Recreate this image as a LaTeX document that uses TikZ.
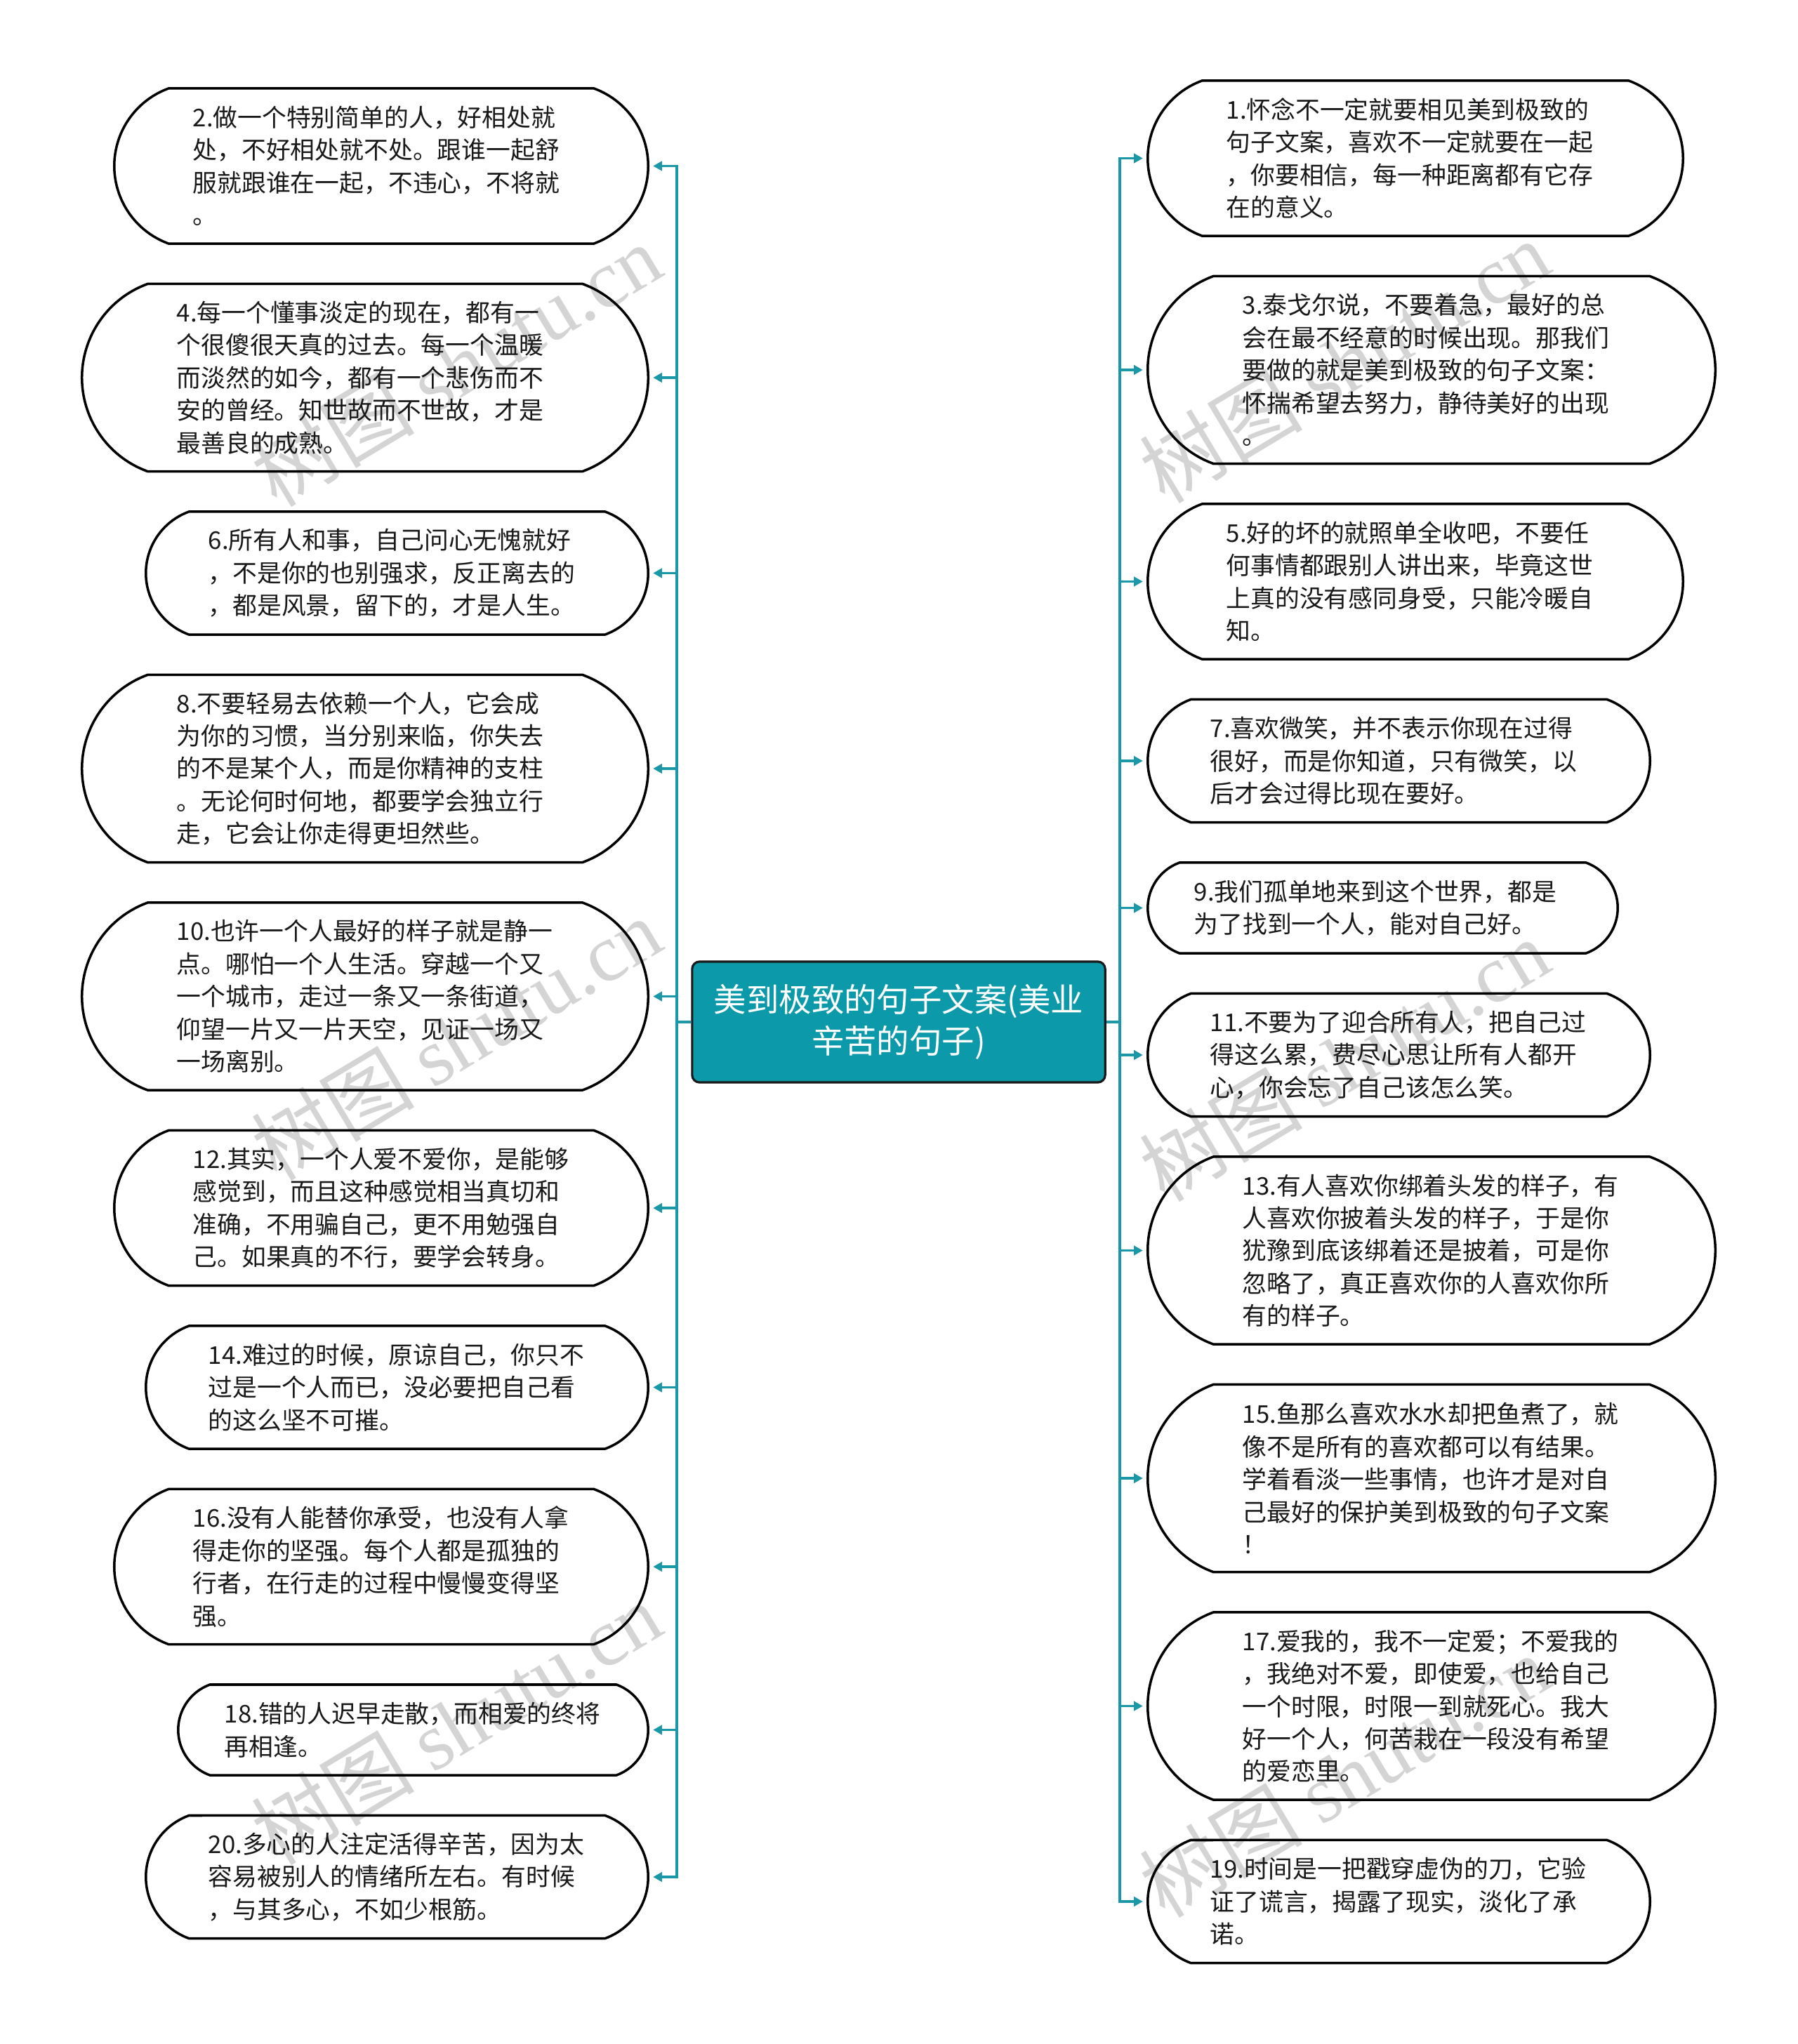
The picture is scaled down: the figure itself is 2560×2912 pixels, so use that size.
\documentclass[tikz,border=0pt]{standalone}
\usepackage{fontspec}
\setmainfont{Noto Sans CJK SC}
\newfontfamily\cjkf{Noto Sans CJK SC}
\newfontfamily\wmserif{Liberation Serif}
\usetikzlibrary{shapes.misc,arrows.meta}
\definecolor{teal1}{HTML}{0C9AAA}
\definecolor{conncol}{HTML}{1A98A8}
\definecolor{wmgray}{HTML}{D4D4D4}
\tikzset{
  bubble/.style={rounded rectangle, rounded rectangle arc length=140, draw=black, line width=1pt, inner sep=0pt},
  btext/.style={font=\cjkf\fontsize{9.9pt}{13.2pt}\selectfont, align=left, inner sep=0pt, text=black!90},
  conn/.style={draw=conncol, line width=1pt},
  connarr/.style={conn, -{Triangle[length=3.6pt,width=3.8pt]}, shorten >=1.5pt},
  wm/.style={text=wmgray, rotate=31, font=\cjkf\fontsize{33pt}{33pt}\selectfont, inner sep=0pt},
  center/.style={draw=black!90, line width=0.9pt, fill=teal1, rounded corners=3pt, text=white,
     font=\cjkf\fontsize{13.2pt}{16.9pt}\selectfont, align=center, minimum width=588*0.28453pt, minimum height=172*0.28453pt, inner sep=0pt}
}
\newcommand\bub[6]{%
  \pgfmathsetmacro\bh{129+(#5-2)*46}%
  \pgfmathsetmacro\bcy{#4+\bh/2}%
  \pgfmathsetmacro\bcx{(#2+#3)/2}%
  \pgfmathsetmacro\bw{#3-#2}%
  \pgfmathsetmacro\toff{65+(#5-2)*23}%
  \node[bubble, minimum width=\bw*0.28453pt, minimum height=\bh*0.28453pt] (#1) at (\bcx,\bcy) {};
  \node[btext, anchor=west] (#1t) at (#2+\toff,\bcy) {#6};
}
\begin{document}
\begin{tikzpicture}[x=0.01cm,y=-0.01cm]
\useasboundingbox[fill=white] (0,0) rectangle (2560,2912);
% watermarks
\node[wm] (w1) at (650,520) {树图 {\wmserif shutu.cn}};
\node[wm] (w2) at (1915,515) {树图 {\wmserif shutu.cn}};
\node[wm] (w3) at (650,1480) {树图 {\wmserif shutu.cn}};
\node[wm] (w4) at (1915,1510) {树图 {\wmserif shutu.cn}};
\node[wm] (w5) at (650,2455) {树图 {\wmserif shutu.cn}};
\node[wm] (w6) at (1915,2530) {树图 {\wmserif shutu.cn}};
% center
\node[center] (c) at (1280,1456) {美到极致的句子文案(美业\\辛苦的句子)};
\coordinate (jl) at (964,1456);
\coordinate (jr) at (1595,1456);
% left column
\bub{L2}{163}{923}{126}{4}{2.做一个特别简单的人，好相处就\\处，不好相处就不处。跟谁一起舒\\服就跟谁在一起，不违心，不将就\\。}
\bub{L4}{117}{923}{404.5}{5}{4.每一个懂事淡定的现在，都有一\\个很傻很天真的过去。每一个温暖\\而淡然的如今，都有一个悲伤而不\\安的曾经。知世故而不世故，才是\\最善良的成熟。}
\bub{L6}{208}{923}{729}{3}{6.所有人和事，自己问心无愧就好\\，不是你的也别强求，反正离去的\\，都是风景，留下的，才是人生。}
\bub{L8}{117}{923}{961.5}{5}{8.不要轻易去依赖一个人，它会成\\为你的习惯，当分别来临，你失去\\的不是某个人，而是你精神的支柱\\。无论何时何地，都要学会独立行\\走，它会让你走得更坦然些。}
\bub{L10}{117}{923}{1286}{5}{10.也许一个人最好的样子就是静一\\点。哪怕一个人生活。穿越一个又\\一个城市，走过一条又一条街道，\\仰望一片又一片天空，见证一场又\\一场离别。}
\bub{L12}{163}{923}{1610.5}{4}{12.其实，一个人爱不爱你，是能够\\感觉到，而且这种感觉相当真切和\\准确，不用骗自己，更不用勉强自\\己。如果真的不行，要学会转身。}
\bub{L14}{208}{923}{1889}{3}{14.难过的时候，原谅自己，你只不\\过是一个人而已，没必要把自己看\\的这么坚不可摧。}
\bub{L16}{163}{923}{2121.5}{4}{16.没有人能替你承受，也没有人拿\\得走你的坚强。每个人都是孤独的\\行者，在行走的过程中慢慢变得坚\\强。}
\bub{L18}{254}{923}{2400}{2}{18.错的人迟早走散，而相爱的终将\\再相逢。}
\bub{L20}{208}{923}{2586.5}{3}{20.多心的人注定活得辛苦，因为太\\容易被别人的情绪所左右。有时候\\，与其多心，不如少根筋。}
% right column
\bub{R1}{1635}{2397}{115}{4}{1.怀念不一定就要相见美到极致的\\句子文案，喜欢不一定就要在一起\\，你要相信，每一种距离都有它存\\在的意义。}
\bub{R3}{1635}{2443}{393.5}{5}{3.泰戈尔说，不要着急，最好的总\\会在最不经意的时候出现。那我们\\要做的就是美到极致的句子文案：\\怀揣希望去努力，静待美好的出现\\。}
\bub{R5}{1635}{2397}{718}{4}{5.好的坏的就照单全收吧，不要任\\何事情都跟别人讲出来，毕竟这世\\上真的没有感同身受，只能冷暖自\\知。}
\bub{R7}{1635}{2350}{996.5}{3}{7.喜欢微笑，并不表示你现在过得\\很好，而是你知道，只有微笑，以\\后才会过得比现在要好。}
\bub{R9}{1635}{2304}{1229}{2}{9.我们孤单地来到这个世界，都是\\为了找到一个人，能对自己好。}
\bub{R11}{1635}{2350}{1415.5}{3}{11.不要为了迎合所有人，把自己过\\得这么累，费尽心思让所有人都开\\心，你会忘了自己该怎么笑。}
\bub{R13}{1635}{2443}{1648}{5}{13.有人喜欢你绑着头发的样子，有\\人喜欢你披着头发的样子，于是你\\犹豫到底该绑着还是披着，可是你\\忽略了，真正喜欢你的人喜欢你所\\有的样子。}
\bub{R15}{1635}{2443}{1972.5}{5}{15.鱼那么喜欢水水却把鱼煮了，就\\像不是所有的喜欢都可以有结果。\\学着看淡一些事情，也许才是对自\\己最好的保护美到极致的句子文案\\！}
\bub{R17}{1635}{2443}{2297}{5}{17.爱我的，我不一定爱；不爱我的\\，我绝对不爱，即使爱，也给自己\\一个时限，时限一到就死心。我大\\好一个人，何苦栽在一段没有希望\\的爱恋里。}
\bub{R19}{1635}{2350}{2621.5}{3}{19.时间是一把戳穿虚伪的刀，它验\\证了谎言，揭露了现实，淡化了承\\诺。}
% connectors
\draw[conn] (c.west) -- (jl);
\draw[conn] (c.east) -- (jr);
\foreach \n in {L2,L4,L6,L8,L10,L12,L14,L16,L18,L20}
  \draw[connarr] (jl) |- (\n.east);
\foreach \n in {R1,R3,R5,R7,R9,R11,R13,R15,R17,R19}
  \draw[connarr] (jr) |- (\n.west);
\end{tikzpicture}
\end{document}
